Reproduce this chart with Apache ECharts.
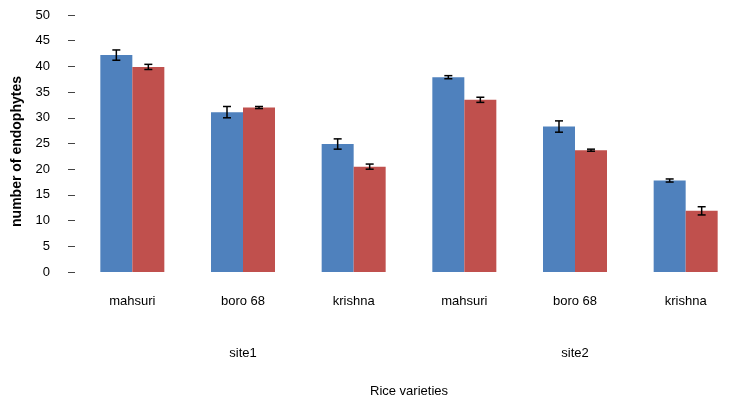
<!DOCTYPE html>
<html>
<head>
<meta charset="utf-8">
<script src="https://cdn.jsdelivr.net/npm/echarts@6/dist/echarts.min.js"></script>
<style>
html,body{margin:0;padding:0;background:#fff;}
#main{width:730px;height:400px;}
</style>
</head>
<body>
<div id="main"></div>
<script>
const categories = ['mahsuri', 'boro 68', 'krishna', 'mahsuri', 'boro 68', 'krishna'];
const sites = ['site1', 'site2'];
const yTicks = [0, 5, 10, 15, 20, 25, 30, 35, 40, 45, 50];
const seriesA = [42.2, 31.1, 24.9, 37.9, 28.3, 17.8];
const seriesB = [39.9, 32.0, 20.5, 33.5, 23.7, 11.9];
const errA = [1.0, 1.1, 1.0, 0.3, 1.1, 0.3];
const errB = [0.5, 0.2, 0.5, 0.5, 0.2, 0.8];

const FONT = '"Liberation Sans Narrow", "Liberation Sans", sans-serif';
const BAR_W = 32;

function errorSeries(vals, errs, side) {
  return {
    type: 'custom',
    xAxisIndex: 0,
    z: 10,
    data: vals.map((v, i) => [i, v - errs[i], v + errs[i]]),
    renderItem: function (params, api) {
      const i = api.value(0);
      const lo = api.coord([i, api.value(1)]);
      const hi = api.coord([i, api.value(2)]);
      const x = lo[0] + side * BAR_W / 2;
      const cap = 4;
      const st = { stroke: '#000', lineWidth: 1.5 };
      return {
        type: 'group',
        children: [
          { type: 'line', shape: { x1: x, y1: lo[1], x2: x, y2: hi[1] }, style: st },
          { type: 'line', shape: { x1: x - cap, y1: lo[1], x2: x + cap, y2: lo[1] }, style: st },
          { type: 'line', shape: { x1: x - cap, y1: hi[1], x2: x + cap, y2: hi[1] }, style: st }
        ]
      };
    }
  };
}

const chart = echarts.init(document.getElementById('main'));
chart.setOption({
  animation: false,
  textStyle: { fontFamily: FONT },
  grid: { left: 77, top: 15, width: 664, height: 257, containLabel: false, outerBoundsMode: 'none' },
  xAxis: [
    {
      type: 'category',
      data: categories,
      position: 'bottom',
      axisLine: { show: false },
      axisTick: { show: false },
      axisLabel: { color: '#000', fontSize: 13, margin: 23, fontFamily: FONT }
    },
    {
      type: 'category',
      data: sites,
      position: 'bottom',
      offset: 75,
      axisLine: { show: false },
      axisTick: { show: false },
      axisLabel: { color: '#000', fontSize: 13, margin: 0, fontFamily: FONT },
      name: 'Rice varieties',
      nameLocation: 'middle',
      nameGap: 38,
      nameTextStyle: { color: '#000', fontSize: 13, fontFamily: FONT },
      gridIndex: 0
    }
  ],
  yAxis: {
    type: 'value',
    min: 0,
    max: 50,
    interval: 5,
    offset: 2,
    axisLine: { show: false },
    axisTick: { show: true, length: 7, lineStyle: { color: '#444' } },
    splitLine: { show: false },
    axisLabel: { color: '#000', fontSize: 13, margin: 25, fontFamily: FONT,
      formatter: v => yTicks.indexOf(v) >= 0 ? String(v) : '' },
    name: 'number of endophytes',
    nameLocation: 'middle',
    nameGap: 48,
    nameTextStyle: { color: '#000', fontSize: 14, fontWeight: 'bold', fontFamily: FONT, padding: [0, 16, 0, 0] }
  },
  series: [
    { type: 'bar', data: seriesA, barWidth: BAR_W, barGap: '0%', itemStyle: { color: '#4F81BD' } },
    { type: 'bar', data: seriesB, barWidth: BAR_W, barGap: '0%', itemStyle: { color: '#C0504D' } },
    errorSeries(seriesA, errA, -1),
    errorSeries(seriesB, errB, 1)
  ]
});
</script>
</body>
</html>
